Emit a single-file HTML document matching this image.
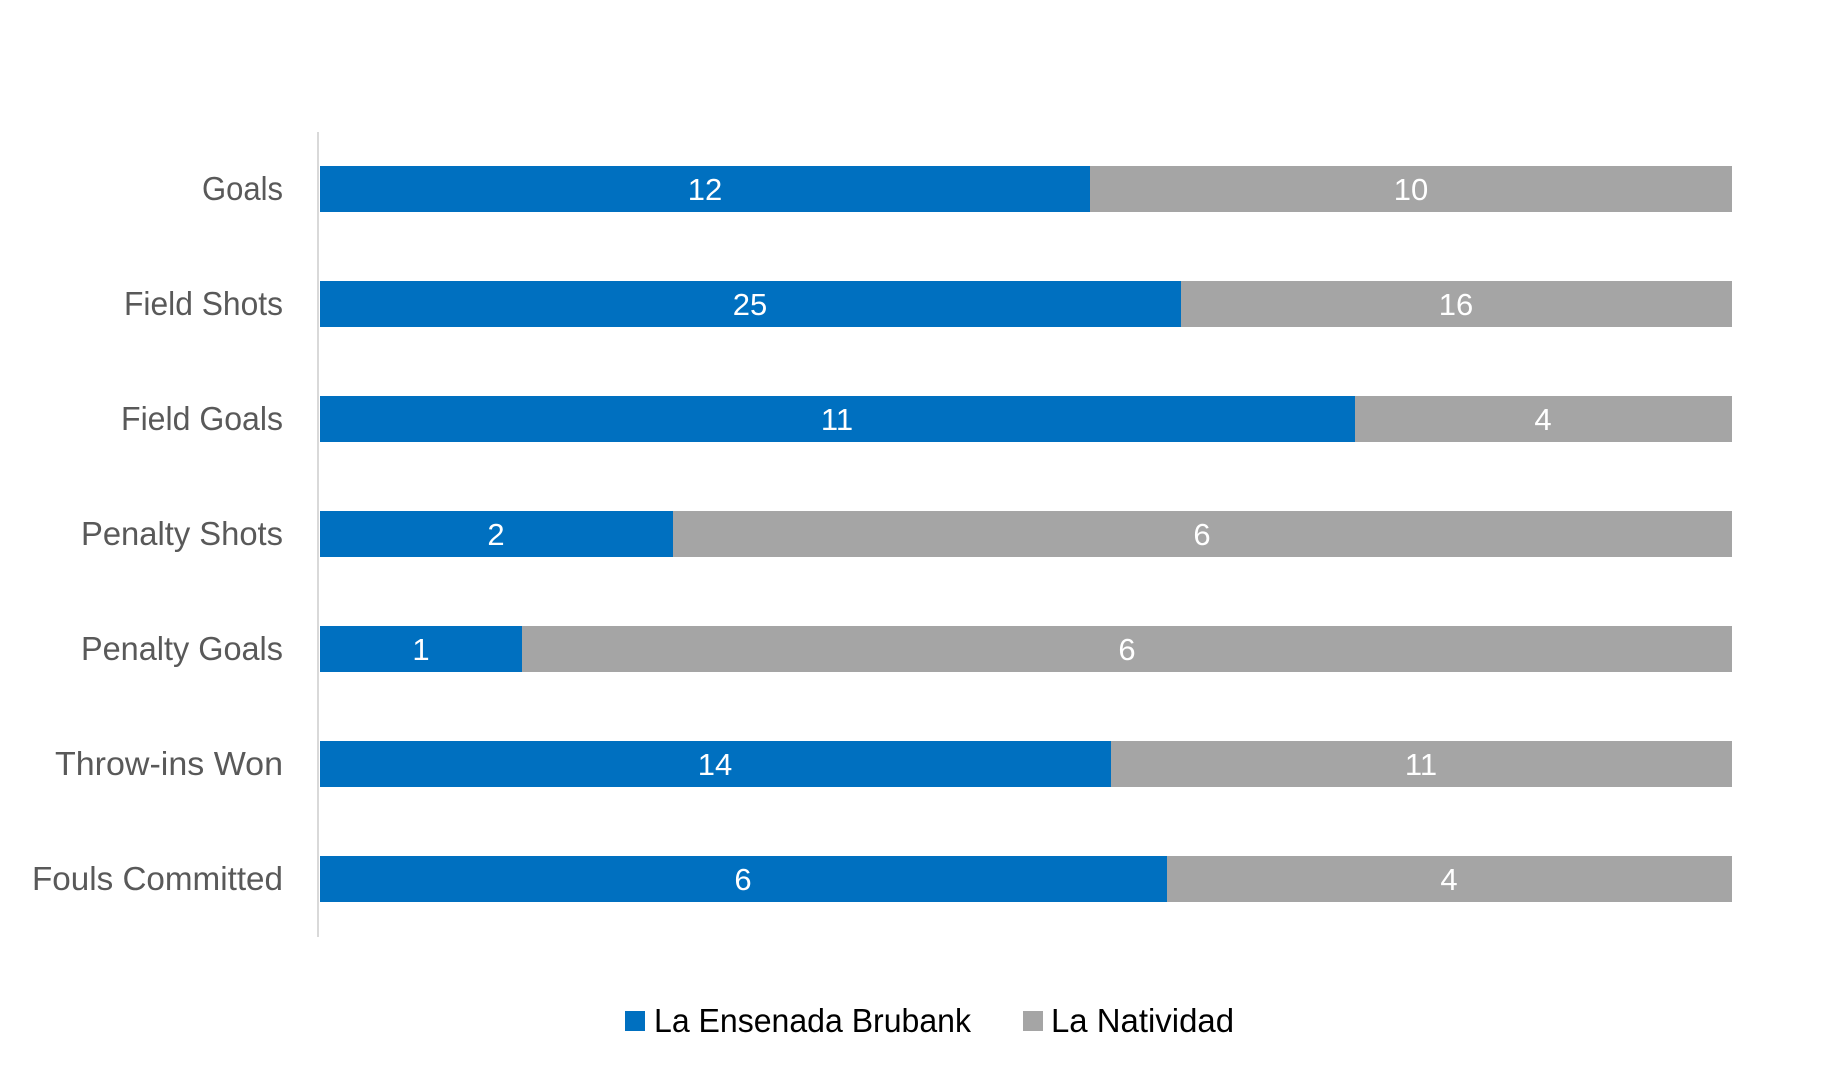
<!DOCTYPE html>
<html><head><meta charset="utf-8"><style>html,body{margin:0;padding:0;background:#fff}svg{display:block}</style></head>
<body>
<svg width="1844" height="1085" xmlns="http://www.w3.org/2000/svg" font-family="'Liberation Sans', sans-serif">
<rect width="1844" height="1085" fill="#fff"/>
<line x1="318" y1="132" x2="318" y2="937" stroke="#d9d9d9" stroke-width="2"/>
<g font-size="33" fill="#595959" text-anchor="end">
<text x="283" y="200" textLength="81" lengthAdjust="spacingAndGlyphs">Goals</text>
<text x="283" y="315" textLength="159" lengthAdjust="spacingAndGlyphs">Field Shots</text>
<text x="283" y="430" textLength="162" lengthAdjust="spacingAndGlyphs">Field Goals</text>
<text x="283" y="545" textLength="202" lengthAdjust="spacingAndGlyphs">Penalty Shots</text>
<text x="283" y="660" textLength="202" lengthAdjust="spacingAndGlyphs">Penalty Goals</text>
<text x="283" y="775" textLength="228" lengthAdjust="spacingAndGlyphs">Throw-ins Won</text>
<text x="283" y="890" textLength="251" lengthAdjust="spacingAndGlyphs">Fouls Committed</text>
</g>
<g>
<rect x="320" y="166" width="770" height="46" fill="#0070C0"/><rect x="1090" y="166" width="642" height="46" fill="#A5A5A5"/>
<rect x="320" y="281" width="861" height="46" fill="#0070C0"/><rect x="1181" y="281" width="551" height="46" fill="#A5A5A5"/>
<rect x="320" y="396" width="1035" height="46" fill="#0070C0"/><rect x="1355" y="396" width="377" height="46" fill="#A5A5A5"/>
<rect x="320" y="511" width="353" height="46" fill="#0070C0"/><rect x="673" y="511" width="1059" height="46" fill="#A5A5A5"/>
<rect x="320" y="626" width="202" height="46" fill="#0070C0"/><rect x="522" y="626" width="1210" height="46" fill="#A5A5A5"/>
<rect x="320" y="741" width="791" height="46" fill="#0070C0"/><rect x="1111" y="741" width="621" height="46" fill="#A5A5A5"/>
<rect x="320" y="856" width="847" height="46" fill="#0070C0"/><rect x="1167" y="856" width="565" height="46" fill="#A5A5A5"/>
</g>
<g font-size="31" fill="#fff" text-anchor="middle">
<text x="705" y="200">12</text><text x="1411" y="200">10</text>
<text x="750" y="315">25</text><text x="1456" y="315">16</text>
<text x="837" y="430">11</text><text x="1543" y="430">4</text>
<text x="496" y="545">2</text><text x="1202" y="545">6</text>
<text x="421" y="660">1</text><text x="1127" y="660">6</text>
<text x="715" y="775">14</text><text x="1421" y="775">11</text>
<text x="743" y="890">6</text><text x="1449" y="890">4</text>
</g>
<rect x="625" y="1011" width="20" height="20" fill="#0070C0"/>
<rect x="1023" y="1011" width="20" height="20" fill="#A5A5A5"/>
<g font-size="33" fill="#000">
<text x="654" y="1032" textLength="317" lengthAdjust="spacingAndGlyphs">La Ensenada Brubank</text>
<text x="1051" y="1032" textLength="183" lengthAdjust="spacingAndGlyphs">La Natividad</text>
</g>
</svg>
</body></html>
